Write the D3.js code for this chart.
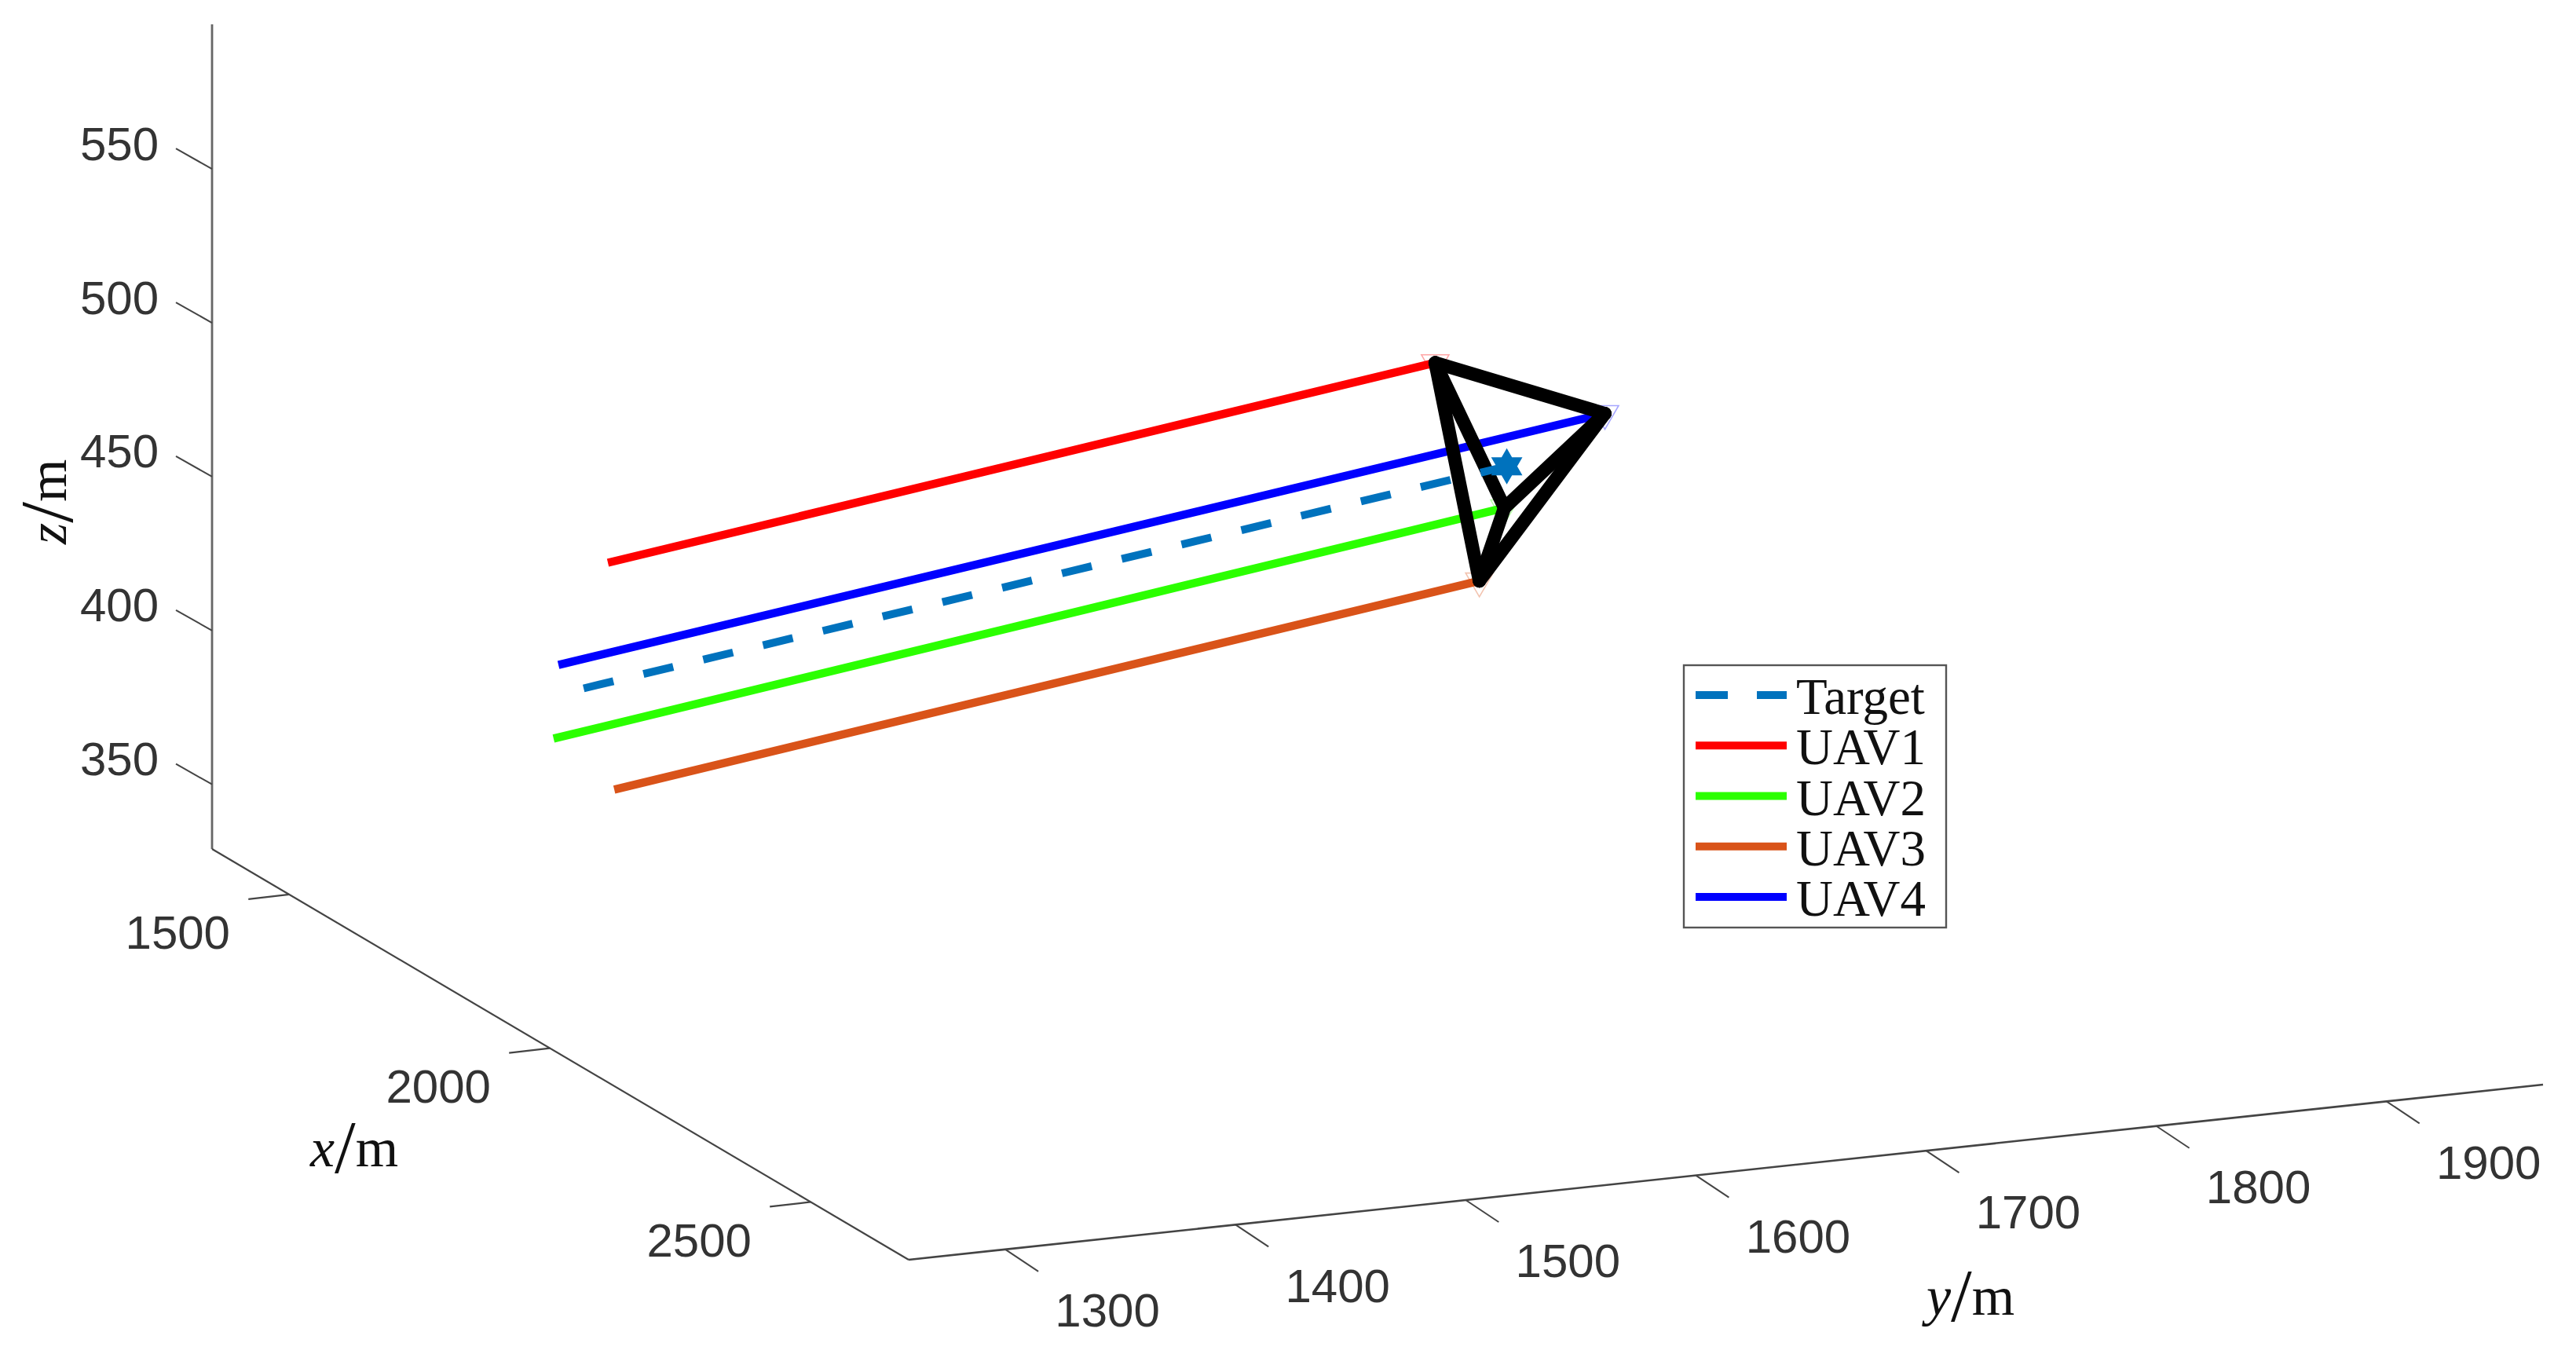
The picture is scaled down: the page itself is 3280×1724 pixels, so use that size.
<!DOCTYPE html>
<html><head><meta charset="utf-8">
<script src="https://cdnjs.cloudflare.com/ajax/libs/d3/7.8.5/d3.min.js"></script>
<style>html,body{margin:0;background:#fff}svg{display:block}text{font-family:"Liberation Sans",sans-serif}</style>
</head><body><svg id="c" width="3280" height="1724"></svg>
<script>
// Axis ranges and ticks
const xExtent=[1352,2688], yExtent=[1258,1968], zExtent=[329,597];
const xTicks=[1500,2000,2500];
const yTicks=[1300,1400,1500,1600,1700,1800,1900];
const zTicks=[350,400,450,500,550];
// Trajectories: [start, end]
const targetX=[1959.6,1620.7], targetY=[1281.8,1759.6], targetZ=[440,440];
const uav1X=[1875,1568.6], uav1Y=[1311.5,1740.3], uav1Z=[470,470];
const uav2X=[1919.6,1565], uav2Y=[1277.8,1771.2], uav2Z=[420,420];
const uav3X=[1908.4,1589.3], uav3Y=[1306.7,1754.8], uav3Z=[400,400];
const uav4X=[1972.2,1589], uav4Y=[1268,1809.4], uav4Z=[450,450];
const legendLabels=["Target","UAV1","UAV2","UAV3","UAV4"];
const uavColors=["#ff0000","#2bff00","#d95319","#0000ff"];
const targetColor="#0072bd";

// Oblique 3D projection composed from linear scales
const origin=[270,1081];
const xToPx=d3.scaleLinear().domain(xExtent).range([0,887]);
const xToPy=d3.scaleLinear().domain(xExtent).range([0,523]);
const yToPx=d3.scaleLinear().domain(yExtent).range([0,2081]);
const yToPy=d3.scaleLinear().domain(yExtent).range([0,-223]);
const zToPy=d3.scaleLinear().domain(zExtent).range([0,-1050]);
const P=(x,y,z)=>[origin[0]+xToPx(x)+yToPx(y),origin[1]+xToPy(x)+yToPy(y)+zToPy(z)];

const svg=d3.select("#c");
const line=d3.line();
const ax=svg.append("g");
const seg=(a,b,w,col)=>ax.append("path").attr("d",line([a,b])).attr("fill","none").attr("stroke",col).attr("stroke-width",w);

// Axes
seg(P(xExtent[0],yExtent[0],zExtent[0]),P(xExtent[0],yExtent[0],zExtent[1]),2.8,"#666");
seg(P(xExtent[0],yExtent[0],zExtent[0]),P(xExtent[1],yExtent[0],zExtent[0]),2.2,"#444");
seg(P(xExtent[1],yExtent[0],zExtent[0]),P(xExtent[1],yExtent[1],zExtent[0]),2.6,"#444");
const tickLabel=(p,t,anchor)=>ax.append("text").attr("x",p[0]).attr("y",p[1]).attr("text-anchor",anchor)
  .attr("dominant-baseline","central").attr("font-size",60).attr("fill","#333").text(t);
zTicks.forEach(t=>{const p=P(xExtent[0],yExtent[0],t);
  seg(p,[p[0]-46,p[1]-26],2,"#444");
  tickLabel([p[0]-68,p[1]-32],t,"end");});
xTicks.forEach(t=>{const p=P(t,yExtent[0],zExtent[0]);
  seg(p,[p[0]-52,p[1]+6],2.2,"#444");
  tickLabel([p[0]-142,p[1]+49],t,"middle");});
yTicks.forEach(t=>{const p=P(xExtent[1],t,zExtent[0]);
  seg(p,[p[0]+42,p[1]+28],2,"#444");
  tickLabel([p[0]+130,p[1]+78],t,"middle");});

// Axis titles
function axisTitle(letter,transform){
  const t=svg.append("text").attr("transform",transform).attr("font-size",70).attr("fill","#111")
    .style("font-family","'Liberation Serif',serif");
  t.append("tspan").attr("font-style","italic").text(letter);
  t.append("tspan").attr("font-size",96).attr("font-weight",100).attr("dy",8).text("/");
  t.append("tspan").attr("dy",-8).text("m");
}
axisTitle("x","translate(395,1485)");
axisTitle("y","translate(2453,1674)");
axisTitle("z","translate(84,693) rotate(-90)");

// Trajectories
const series=[
 {X:uav1X,Y:uav1Y,Z:uav1Z,c:uavColors[0]},
 {X:uav2X,Y:uav2Y,Z:uav2Z,c:uavColors[1]},
 {X:uav3X,Y:uav3Y,Z:uav3Z,c:uavColors[2]},
 {X:uav4X,Y:uav4Y,Z:uav4Z,c:uavColors[3]}];
const pts=s=>s.X.map((v,i)=>P(v,s.Y[i],s.Z[i]));
const plot=svg.append("g");
series.forEach(s=>{
  plot.append("path").attr("d",line(pts(s))).attr("fill","none").attr("stroke",s.c).attr("stroke-width",10.5);
});
series.forEach(s=>{
  const e=pts(s)[1];
  plot.append("path").attr("d",d3.symbol(d3.symbolTriangle,530)())
    .attr("transform",`translate(${e[0]},${e[1]}) rotate(180)`)
    .attr("fill","none").attr("stroke",s.c).attr("stroke-opacity",.35).attr("stroke-width",1.6);
});
// Formation edges
const ends=series.map(s=>pts(s)[1]);
[[0,3],[0,2],[0,1],[1,2],[1,3],[2,3]].forEach(([a,b])=>{
  plot.append("path").attr("d",line([ends[a],ends[b]])).attr("fill","none")
    .attr("stroke","#000").attr("stroke-width",17).attr("stroke-linecap","round");
});
// Target
const tp=pts({X:targetX,Y:targetY,Z:targetZ});
plot.append("path").attr("d",line(tp)).attr("fill","none").attr("stroke",targetColor)
  .attr("stroke-width",10).attr("stroke-dasharray","39 39.3");
const tri=(r,a0)=>d3.range(3).map(i=>{const a=a0+i*2*Math.PI/3;return [r*Math.cos(a),r*Math.sin(a)];});
plot.append("path").attr("transform",`translate(${tp[1][0]},${tp[1][1]})`).attr("fill",targetColor)
  .attr("d",line(tri(23,-Math.PI/2))+"Z"+line(tri(23,Math.PI/2))+"Z");

// Legend
const lg=svg.append("g");
lg.append("rect").attr("x",2144).attr("y",847).attr("width",334).attr("height",334)
  .attr("fill","#fff").attr("stroke","#555").attr("stroke-width",2.4);
const legendRow=d3.scalePoint().domain(legendLabels).range([885,1142]);
const legendColors=[targetColor].concat(uavColors);
legendLabels.forEach((n,i)=>{
  const y=legendRow(n);
  const l=lg.append("path").attr("d",line([[2159,y],[2275,y]])).attr("fill","none")
    .attr("stroke",legendColors[i]).attr("stroke-width",10);
  if(i===0) l.attr("stroke-dasharray","41 37 38");
  lg.append("text").attr("x",2287).attr("y",y+24).attr("font-size",65).attr("fill","#111")
    .style("font-family","'Liberation Serif',serif").text(n);
});
</script></body></html>
